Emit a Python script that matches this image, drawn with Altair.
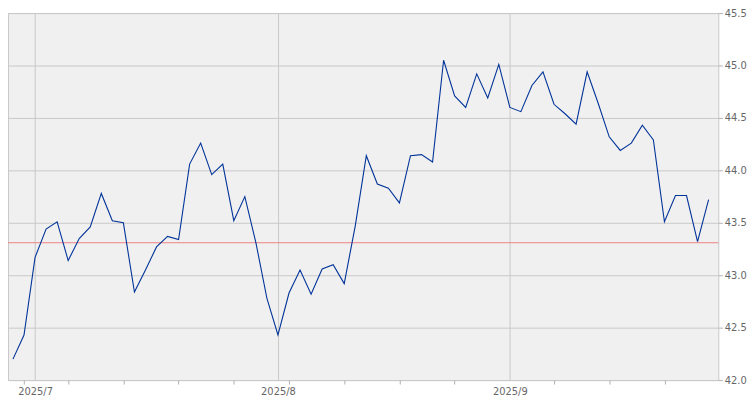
import altair as alt
import pandas as pd

dates = [
    "2025-06-27", "2025-06-30",
    "2025-07-01", "2025-07-02", "2025-07-03", "2025-07-07", "2025-07-08", "2025-07-09",
    "2025-07-10", "2025-07-11", "2025-07-14", "2025-07-15", "2025-07-16", "2025-07-17",
    "2025-07-18", "2025-07-21", "2025-07-22", "2025-07-23", "2025-07-24", "2025-07-25",
    "2025-07-28", "2025-07-29", "2025-07-30", "2025-07-31",
    "2025-08-01", "2025-08-04", "2025-08-05", "2025-08-06", "2025-08-07", "2025-08-08",
    "2025-08-11", "2025-08-12", "2025-08-13", "2025-08-14", "2025-08-15", "2025-08-18",
    "2025-08-19", "2025-08-20", "2025-08-21", "2025-08-22", "2025-08-25", "2025-08-26",
    "2025-08-27", "2025-08-28", "2025-08-29",
    "2025-09-02", "2025-09-03", "2025-09-04", "2025-09-05", "2025-09-08", "2025-09-09",
    "2025-09-10", "2025-09-11", "2025-09-12", "2025-09-15", "2025-09-16", "2025-09-17",
    "2025-09-18", "2025-09-19", "2025-09-22", "2025-09-23", "2025-09-24", "2025-09-25",
    "2025-09-26",
]

prices = [
    42.20, 42.43, 43.17, 43.44, 43.51, 43.14, 43.35, 43.46, 43.78, 43.52,
    43.50, 42.84, 43.05, 43.27, 43.37, 43.34, 44.06, 44.26, 43.96, 44.06,
    43.52, 43.75, 43.31, 42.78, 42.43, 42.83, 43.05, 42.82, 43.06, 43.10,
    42.92, 43.47, 44.14, 43.87, 43.83, 43.69, 44.14, 44.15, 44.08, 45.05,
    44.71, 44.60, 44.92, 44.69, 45.01, 44.60, 44.56, 44.81, 44.94, 44.63,
    44.54, 44.44, 44.94, 44.64, 44.32, 44.19, 44.26, 44.43, 44.29, 43.51,
    43.76, 43.76, 43.32, 43.72,
]

ref_level = 43.31
y_ticks = [42.0, 42.5, 43.0, 43.5, 44.0, 44.5, 45.0, 45.5]

df = pd.DataFrame({"date": pd.to_datetime(dates), "price": prices})
df["idx"] = range(len(df))

# first trading day of each new month (after the first month shown)
month_change = df["date"].dt.month != df["date"].dt.month.shift(1)
month_rows = df[month_change].iloc[1:]
month_idx = month_rows["idx"].tolist()
month_labels = [f"{d.year}/{d.month}" for d in month_rows["date"]]
label_expr = "''"
for i, lab in reversed(list(zip(month_idx, month_labels))):
    label_expr = f"datum.value == {i} ? '{lab}' : ({label_expr})"

monday_idx = df[df["date"].dt.weekday == 0]["idx"].tolist()

FONT = "DejaVu Sans"
TXT = "#666666"
GRID = "#c8c8c8"
TICK = "#b0b0b0"

x_scale = alt.Scale(domain=[-0.45, len(df) - 1 + 0.88], nice=False, zero=False)
y_scale = alt.Scale(domain=[42.0, 45.5], nice=False, zero=False)

y_axis = alt.Axis(
    orient="right", values=y_ticks, format=".1f", grid=True,
    gridColor=GRID, gridWidth=1, tickColor=TICK, tickSize=4,
    domain=False, labelPadding=2, title=None, labelFont=FONT,
    labelFontSize=10, labelColor=TXT,
)

line = alt.Chart(df).mark_line(color="#003399", strokeWidth=1.1).encode(
    x=alt.X(
        "idx:Q",
        scale=x_scale,
        axis=alt.Axis(
            orient="bottom", values=month_idx, labelExpr=label_expr,
            grid=True, gridColor=GRID, gridWidth=1, ticks=False, domain=False,
            labelPadding=7, title=None, labelFont=FONT, labelFontSize=10,
            labelColor=TXT, labelAlign="center",
        ),
    ),
    y=alt.Y("price:Q", scale=y_scale, axis=y_axis),
)

mondays_df = df[df["idx"].isin(monday_idx)]
ticks_layer = alt.Chart(mondays_df).mark_point(opacity=0).encode(
    x=alt.X(
        "idx:Q",
        scale=x_scale,
        axis=alt.Axis(
            orient="bottom", values=monday_idx, labels=False, grid=False,
            ticks=True, tickSize=4, tickColor=TICK, domain=False, title=None,
        ),
    ),
    y=alt.Y("price:Q", scale=y_scale, axis=y_axis),
)

ref = alt.Chart(pd.DataFrame({"ref": [ref_level]})).mark_rule(
    color="#f08080", strokeWidth=1
).encode(y=alt.Y("ref:Q", scale=y_scale, axis=y_axis))

chart = (
    alt.layer(ticks_layer, ref, line)
    .resolve_axis(x="independent")
    .properties(
        width=718,
        height=371,
        autosize=alt.AutoSizeParams(type="none"),
        padding={"left": 0, "top": 3, "right": 29, "bottom": 18},
        background="white",
    )
    .configure_view(fill="#f0f0f0", stroke=GRID)
)

chart.save("out.html", embed_options={"renderer": "svg", "actions": False})
